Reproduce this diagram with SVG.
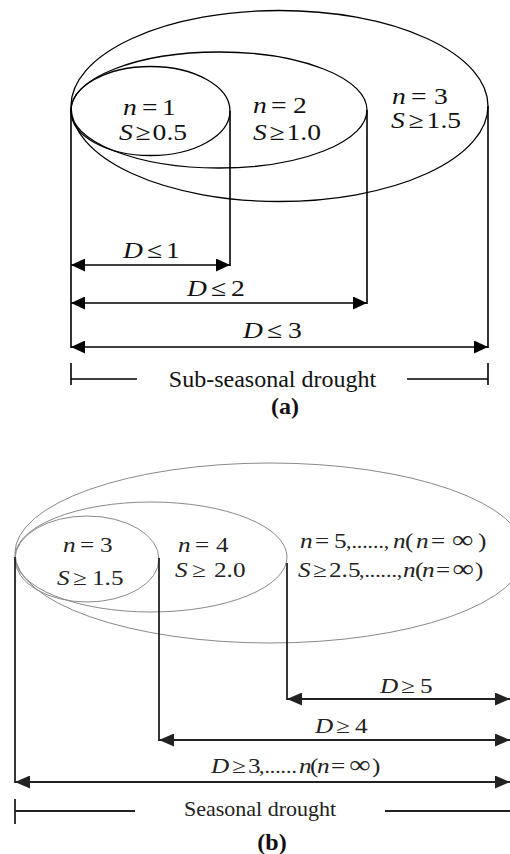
<svg xmlns="http://www.w3.org/2000/svg" width="510" height="854" viewBox="0 0 510 854">
<defs>
<marker id="ah" markerUnits="userSpaceOnUse" markerWidth="14" markerHeight="13" refX="14" refY="6.5" orient="auto-start-reverse"><path d="M0,0 L14,6.5 L0,13 z" fill="#000"/></marker>
<marker id="ahb" markerUnits="userSpaceOnUse" markerWidth="15" markerHeight="13" refX="15" refY="6.5" orient="auto-start-reverse"><path d="M0,0 L15,6.5 L0,13 z" fill="#222"/></marker>
</defs>
<style>
text{font-family:"Liberation Serif","Times New Roman",serif;}
.m{font-size:23px;fill:#111;}
.mb{font-size:21px;fill:#222;}
.i{font-style:italic;}
.d{font-size:18px;}
.inf{font-size:25px;}
.ea{fill:none;stroke:#000;stroke-width:1.3;}
.eb{fill:none;stroke:#8a8a8a;stroke-width:1;}
.la{fill:none;stroke:#000;stroke-width:1.6;}
.lb{fill:none;stroke:#222;stroke-width:1.8;}
.arr{marker-start:url(#ah);marker-end:url(#ah);}
.arrb{marker-start:url(#ahb);marker-end:url(#ahb);}
.cap{font-size:24px;fill:#111;}
.capb{font-size:22px;fill:#222;}
.lbl{font-size:24px;font-weight:bold;fill:#111;}
</style>
<g id="panel-a">
<g id="a-n3"><ellipse class="ea" cx="279.5" cy="106" rx="208.5" ry="95.5"/>
<text class="m" y="104" transform="scale(1.2,1)"><tspan class="i" x="326.67">n</tspan><tspan x="342.5">=</tspan><tspan x="361.67">3</tspan></text>
<text class="m" y="128" transform="scale(1.2,1)"><tspan class="i" x="325.83">S</tspan><tspan x="340.5">≥</tspan><tspan x="355.5">1.5</tspan></text></g>
<g id="a-n2"><ellipse class="ea" cx="219" cy="110" rx="148" ry="58"/>
<text class="m" y="113" transform="scale(1.2,1)"><tspan class="i" x="210.83">n</tspan><tspan x="225.83">=</tspan><tspan x="244.17">2</tspan></text>
<text class="m" y="140" transform="scale(1.2,1)"><tspan class="i" x="210.83">S</tspan><tspan x="224.67">≥</tspan><tspan x="238.83">1.0</tspan></text></g>
<g id="a-n1"><ellipse class="ea" cx="150.5" cy="111" rx="79.5" ry="44.5"/>
<text class="m" y="115" transform="scale(1.2,1)"><tspan class="i" x="102.5">n</tspan><tspan x="118.33">=</tspan><tspan x="135">1</tspan></text>
<text class="m" y="140" transform="scale(1.2,1)"><tspan class="i" x="99.17">S</tspan><tspan x="113">≥</tspan><tspan x="127.17">0.5</tspan></text></g>
<g id="a-connectors">
<line class="la" x1="71" y1="108" x2="71" y2="348"/>
<line class="la" x1="230" y1="111" x2="230" y2="266"/>
<line class="la" x1="367" y1="110" x2="367" y2="304"/>
<line class="la" x1="488" y1="106" x2="488" y2="348"/>
<line class="la arr" x1="71" y1="265" x2="230" y2="265"/>
<line class="la arr" x1="71" y1="303" x2="367" y2="303"/>
<line class="la arr" x1="71" y1="347" x2="488" y2="347"/>
<line class="la" x1="71" y1="363" x2="71" y2="385"/>
<line class="la" x1="71" y1="379" x2="137" y2="379"/>
<line class="la" x1="407" y1="379" x2="488" y2="379"/>
<line class="la" x1="488" y1="363" x2="488" y2="385"/>
</g>
<text class="m" y="258" transform="scale(1.2,1)"><tspan class="i" x="102.5">D</tspan><tspan x="122.5">≤</tspan><tspan x="138.33">1</tspan></text>
<text class="m" y="296" transform="scale(1.2,1)"><tspan class="i" x="155.83">D</tspan><tspan x="175.83">≤</tspan><tspan x="192.5">2</tspan></text>
<text class="m" y="338" transform="scale(1.2,1)"><tspan class="i" x="202.5">D</tspan><tspan x="222.5">≤</tspan><tspan x="240">3</tspan></text>
<text class="cap" x="272.5" y="387" text-anchor="middle">Sub-seasonal drought</text>
<text class="lbl" x="285" y="414" text-anchor="middle">(a)</text>
</g>
<g id="panel-b">
<g id="b-n5"><ellipse class="eb" cx="270" cy="553" rx="255" ry="90"/>
<text class="mb" y="548" transform="scale(1.2,1)"><tspan class="i" x="250">n</tspan><tspan x="262.5">=</tspan><tspan x="278.33">5</tspan><tspan class="d" x="288.33">,......,</tspan><tspan class="i" x="327.5">n</tspan><tspan x="337.5">(</tspan><tspan class="i" x="346.67">n</tspan><tspan x="359.17">=</tspan><tspan class="inf" x="376.67">∞</tspan><tspan x="398.33">)</tspan></text>
<text class="mb" y="577" transform="scale(1.2,1)"><tspan class="i" x="248.33">S</tspan><tspan x="260.83">≥</tspan><tspan x="274.17">2.5</tspan><tspan class="d" x="299.17">,......,</tspan><tspan class="i" x="335.83">n</tspan><tspan x="345.83">(</tspan><tspan class="i" x="351.67">n</tspan><tspan x="363.33">=</tspan><tspan class="inf" x="377">∞</tspan><tspan x="395.83">)</tspan></text></g>
<g id="b-n4"><ellipse class="eb" cx="151" cy="557" rx="136" ry="55"/>
<text class="mb" y="552" transform="scale(1.2,1)"><tspan class="i" x="148.33">n</tspan><tspan x="162.5">=</tspan><tspan x="180">4</tspan></text>
<text class="mb" y="577" transform="scale(1.2,1)"><tspan class="i" x="145.83">S</tspan><tspan x="160">≥</tspan><tspan x="178.33">2.0</tspan></text></g>
<g id="b-n3"><ellipse class="eb" cx="87" cy="559" rx="72" ry="43"/>
<text class="mb" y="552" transform="scale(1.2,1)"><tspan class="i" x="52.5">n</tspan><tspan x="66.67">=</tspan><tspan x="83.33">3</tspan></text>
<text class="mb" y="585" transform="scale(1.2,1)"><tspan class="i" x="47.5">S</tspan><tspan x="60.83">≥</tspan><tspan x="76.67">1.5</tspan></text></g>
<g id="b-connectors">
<line class="lb" x1="15" y1="557" x2="15" y2="783"/>
<line class="lb" x1="159" y1="558" x2="159" y2="741"/>
<line class="lb" x1="287" y1="563" x2="287" y2="700"/>
<line class="lb arrb" x1="287" y1="699" x2="510" y2="699"/>
<line class="lb arrb" x1="159" y1="740" x2="510" y2="740"/>
<line class="lb arrb" x1="15" y1="782" x2="510" y2="782"/>
<line class="lb" x1="15" y1="799" x2="15" y2="824"/>
<line class="lb" x1="15" y1="811" x2="135" y2="811"/>
<line class="lb" x1="385" y1="811" x2="510" y2="811"/>
</g>
<text class="mb" y="693" transform="scale(1.2,1)"><tspan class="i" x="316.67">D</tspan><tspan x="334.17">≥</tspan><tspan x="350">5</tspan></text>
<text class="mb" y="733" transform="scale(1.2,1)"><tspan class="i" x="262.5">D</tspan><tspan x="280">≥</tspan><tspan x="295.83">4</tspan></text>
<text class="mb" y="773" transform="scale(1.2,1)"><tspan class="i" x="175.83">D</tspan><tspan x="193.33">≥</tspan><tspan x="206.67">3</tspan><tspan class="d" x="215.83">,......</tspan><tspan class="i" x="249.17">n</tspan><tspan x="258.33">(</tspan><tspan class="i" x="264.17">n</tspan><tspan x="275.83">=</tspan><tspan class="inf" x="291">∞</tspan><tspan x="310">)</tspan></text>
<text class="capb" x="260" y="816" text-anchor="middle">Seasonal drought</text>
<text class="lbl" x="272" y="850" text-anchor="middle">(b)</text>
</g>
</svg>
